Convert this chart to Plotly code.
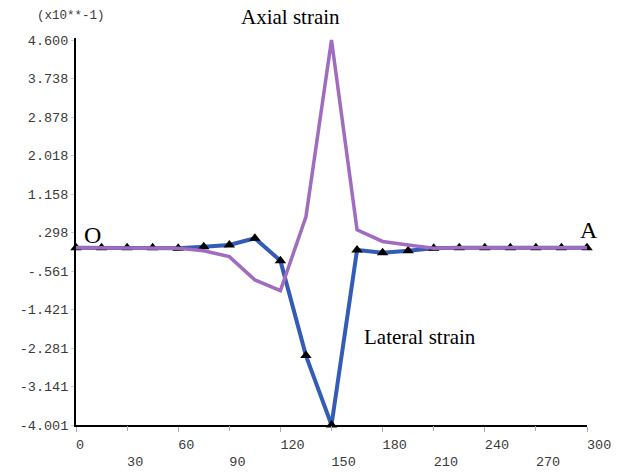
import plotly.graph_objects as go

# Positions along O-A (markers every 15 units)
x_pos = [0, 15, 30, 45, 60, 75, 90, 105, 120, 135, 150, 165, 180, 195, 210,
         225, 240, 255, 270, 285, 300]
lateral = [-0.04, -0.04, -0.04, -0.04, -0.05, -0.02, 0.02, 0.17, -0.33, -2.45,
           -4.001, -0.09, -0.15, -0.11, -0.05, -0.04, -0.04, -0.04, -0.04,
           -0.04, -0.04]
axial = [-0.04, -0.04, -0.04, -0.04, -0.05, -0.11, -0.24, -0.76, -1.0, 0.65,
         4.6, 0.36, 0.10, 0.02, -0.05, -0.04, -0.04, -0.04, -0.04, -0.04,
         -0.04]

y_tickvals = [4.600, 3.738, 2.878, 2.018, 1.158, 0.298, -0.561, -1.421,
              -2.281, -3.141, -4.001]
y_ticktext = ["4.600", "3.738", "2.878", "2.018", "1.158", ".298", "-.561",
              "-1.421", "-2.281", "-3.141", "-4.001"]
x_row1_vals = [0, 60, 120, 180, 240, 300]
x_row1_text = ["0", "60", "120", "180", "240", "300"]
x_row2_vals = [30, 90, 150, 210, 270]
x_row2_text = ["30", "90", "150", "210", "270"]

NB = "\u00a0"


def left_aligned(labels):
    # pad in front with as many non-breaking spaces as characters so the
    # centred monospace label starts at the tick
    return [NB * len(s) + s for s in labels]


blue = "rgb(52,92,182)"
purple = "rgb(160,108,192)"

fig = go.Figure()
fig.add_trace(go.Scatter(x=x_pos, y=lateral, mode="lines+markers",
                         line=dict(color=blue, width=4),
                         marker=dict(symbol="triangle-up", size=10, color="black"),
                         cliponaxis=False, showlegend=False))
fig.add_trace(go.Scatter(x=x_pos, y=axial, mode="lines",
                         line=dict(color=purple, width=3.5),
                         cliponaxis=False, showlegend=False))

mono = dict(family="Liberation Mono", size=13.5, color="#3a3a3a")
serif = "Liberation Serif"

fig.update_layout(
    width=621, height=472,
    margin=dict(l=76, r=34, t=38, b=47),
    plot_bgcolor="white", paper_bgcolor="white",
    xaxis=dict(range=[0, 300], tickvals=x_row1_vals,
               ticktext=left_aligned(x_row1_text), automargin=False,
               showgrid=False, zeroline=False, showline=True, linecolor="black",
               linewidth=2, ticks="outside", ticklen=5, tickcolor="#aaa",
               tickfont=mono, ticklabelstandoff=1, ticklabeloverflow="allow"),
    xaxis2=dict(range=[0, 300], overlaying="x", matches="x", anchor="y",
                side="bottom", tickvals=x_row2_vals,
                ticktext=left_aligned(x_row2_text), automargin=False,
                showgrid=False, zeroline=False, showline=False,
                ticks="outside", ticklen=5, tickcolor="#aaa",
                tickfont=mono, ticklabelstandoff=19, ticklabeloverflow="allow"),
    yaxis=dict(range=[-4.001, 4.645], tickvals=y_tickvals, ticktext=y_ticktext,
               automargin=False,
               showgrid=False, zeroline=False, showline=True, linecolor="black",
               linewidth=2, ticks="outside", ticklen=3, tickcolor="#ccc",
               tickfont=mono),
    annotations=[
        dict(text="(x10**-1)", xref="paper", yref="paper", x=-0.0098, y=1.057,
             xanchor="center", yanchor="middle", showarrow=False,
             font=dict(family="Liberation Mono", size=12.5, color="#3a3a3a")),
        dict(text="Axial strain", xref="x", yref="paper", x=125.9, y=1.054,
             xanchor="center", yanchor="middle", showarrow=False,
             font=dict(family=serif, size=21, color="black")),
        dict(text="Lateral strain", xref="x", yref="y", x=167.7, y=-2.03,
             xanchor="left", yanchor="middle", showarrow=False,
             font=dict(family=serif, size=21, color="black")),
        dict(text="O", xref="x", yref="y", x=9.7, y=0.24,
             xanchor="center", yanchor="middle", showarrow=False,
             font=dict(family=serif, size=24, color="black")),
        dict(text="A", xref="paper", yref="y", x=1.004, y=0.356,
             xanchor="center", yanchor="middle", showarrow=False,
             font=dict(family=serif, size=24, color="black")),
    ],
)

# attach an invisible trace to the second x axis so its ticks render
fig.add_trace(go.Scatter(x=[0, 300], y=[0, 0], xaxis="x2", mode="lines",
                         line=dict(width=0), hoverinfo="skip",
                         showlegend=False))

# remove the default page margin so the figure fills the window exactly
fig.write_html("out.html",
               config={"displayModeBar": False},
               post_script="document.body.style.margin='0';"
                           "document.body.style.overflow='hidden';")
